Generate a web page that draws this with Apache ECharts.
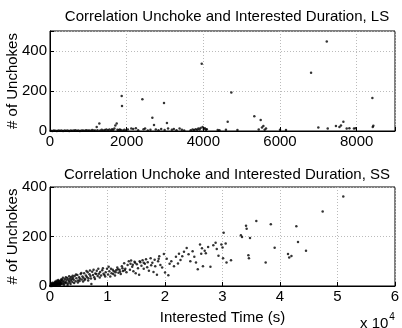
<!DOCTYPE html>
<html>
<head>
<meta charset="utf-8">
<script src="https://cdn.jsdelivr.net/npm/echarts@6/dist/echarts.min.js"></script>
<style>
  html, body { margin: 0; padding: 0; background: #fff; }
  #chart { width: 402px; height: 328px; }
</style>
</head>
<body>
<div id="chart"></div>
<script>
// titles / labels
var titleLS = 'Correlation Unchoke and Interested Duration, LS';
var titleSS = 'Correlation Unchoke and Interested Duration, SS';
var yName = '# of Unchokes';
var xName = 'Interested Time (s)';

// LS: [interested time (s), # of unchokes]
var lsPoints = [
  [20,1],[60,0],[100,2],[140,1],[180,0],[220,2],[260,1],[300,3],[340,0],[380,2],
  [420,1],[460,2],[500,0],[540,3],[580,1],[620,2],[660,4],[700,1],[740,2],[780,0],
  [820,3],[860,2],[900,1],[940,4],[980,2],[1020,3],[1060,1],[1100,5],[1140,2],[1180,3],
  [1218,20],[1240,4],[1287,38],[1310,2],[1350,6],[1390,3],[1430,5],[1470,8],[1510,4],[1550,7],
  [1590,3],[1620,9],[1650,5],[1680,12],[1704,28],[1740,38],[1760,6],[1790,4],[1820,8],[1850,5],
  [1870,175],[1878,125],[1900,3],[1940,6],[1980,2],[2030,8],[2120,12],[2170,10],[2240,14],[2300,4],
  [2410,159],[2440,9],[2480,12],[2550,3],[2620,6],[2670,66],[2713,30],[2760,8],[2830,4],[2900,10],
  [2974,140],[2990,5],[3050,40],[3080,12],[3180,6],[3230,10],[3300,4],[3380,12],[3440,6],[3500,3],
  [3670,4],[3720,7],[3760,5],[3800,9],[3840,6],[3870,12],[3900,8],[3930,15],[3958,336],[3980,20],
  [4010,10],[4040,14],[4070,6],[4090,9],[4375,5],[4420,4],[4590,6],[4635,46],[4730,192],[4890,5],
  [5330,74],[5445,8],[5497,55],[5530,18],[5566,25],[5600,6],[5635,12],[6000,6],[6157,5],[6810,291],
  [7000,18],[7220,448],[7245,12],[7460,25],[7550,20],[7590,27],[7653,46],[7740,13],[7810,14],[7930,12],
  [7975,14],[8410,165],[8435,26],[8420,20]
];

// SS: [interested time (s), # of unchokes]
var ssPoints = [
  [50,0],[120,3],[160,1],[210,6],[260,2],[310,0],[330,8],[400,3],[460,1],[520,9],
  [560,4],[610,2],[640,12],[720,5],[760,1],[790,10],[860,6],[910,3],[950,14],[1010,7],
  [1050,2],[1090,16],[1160,8],[1210,4],[1240,11],[1310,18],[1360,5],[1390,14],[1460,9],[1520,6],
  [1540,20],[1610,11],[1660,3],[1690,17],[1760,12],[1810,7],[1840,22],[1910,13],[1960,9],[2010,19],
  [2110,25],[2180,8],[2290,15],[2380,21],[2520,11],[2580,28],[2690,17],[2810,13],[2880,24],[3010,32],
  [3090,10],[3210,26],[3280,19],[3420,14],[3480,30],[3610,22],[3690,36],[3820,27],[3880,16],[4010,33],
  [4130,25],[4290,40],[4460,19],[4580,31],[4760,44],[4880,22],[5060,35],[5190,29],[5330,48],[5520,26],
  [5640,38],[5810,33],[5940,52],[6120,28],[6240,42],[6410,36],[6560,56],[6680,31],[6870,47],[7030,40],
  [7200,8],[7340,58],[7480,44],[7690,35],[7880,51],[8130,62],[8290,40],[8510,49],[8720,57],[8890,42],
  [9080,64],[9310,50],[9470,44],[9690,56],[9920,70],[10100,46],[10320,60],[10480,38],[10700,52],[10910,66],
  [11100,60],[11300,42],[11500,64],[11700,75],[11900,54],[12100,66],[12300,48],[12500,80],[12700,61],[12900,92],
  [13100,70],[13300,56],[13500,85],[13700,100],[13900,66],[14100,103],[14300,78],[14500,60],[14700,98],[14900,52],
  [15100,88],[15300,72],[15500,45],[15700,96],[15900,82],[16100,104],[16300,70],[16500,90],[16700,108],[16900,76],
  [17200,62],[17500,112],[17800,94],[18000,57],[18300,80],[18600,45],[18800,100],[19000,120],[19200,85],[19500,75],
  [19800,129],[20000,55],[20300,110],[20580,43],[20800,90],[21100,100],[21560,80],[21900,118],[22260,91],[22430,130],
  [22700,105],[23000,120],[23300,138],[23770,154],[24100,128],[24400,100],[24800,140],[25100,118],[25390,95],[25700,68],
  [26090,168],[26300,130],[26430,153],[26600,80],[26900,142],[27100,132],[27500,158],[27900,78],[28400,165],[28800,175],
  [29000,150],[29300,122],[29800,168],[30000,156],[30100,112],[30200,215],[30550,172],[30700,95],[31480,104],[33200,205],
  [33390,198],[34090,243],[34200,231],[34500,124],[34600,112],[34780,194],[35880,263],[37510,95],[38400,250],[39070,155],
  [41390,129],[41600,115],[41990,121],[42840,241],[43130,178],[44520,142],[47420,301],[51000,362],
  // extra scatter in the dense region near the origin
  [180,10],[420,13],[700,4],[880,17],[1130,21],[1420,24],[1700,6],[1980,27],[2250,33],[2450,5],
  [2760,35],[3050,4],[3330,39],[3580,8],[3950,41],[4200,12],[4520,46],[4850,14],[5150,20],[5450,53],
  [5750,18],[6000,24],[6350,61],[6640,22],[6950,63],[7120,30],[7580,66],[7820,28],[8050,48],[8400,70],
  [8650,34],[9200,72],[9600,38],[10200,78],[10600,70],[11000,48],[11400,56],[11800,68],[12200,58],[12600,72],
  [13000,64],[14000,90],[14400,86],[14800,94],[15600,100],[16300,94],[17000,96],[17600,84],[18200,106],[18900,110]
];

// tick values
var lsXTicks = [0, 2000, 4000, 6000, 8000];
var lsYTicks = [0, 200, 400];
var ssXTicks = [0, 1, 2, 3, 4, 5, 6]; // x 10^4
var ssYTicks = [0, 200, 400];

var myChart = echarts.init(document.getElementById('chart'));

var font = 'Liberation Sans, Arial, Helvetica, sans-serif';
var gridLine = { show: true, lineStyle: { color: '#bbb', type: [1, 2], width: 1 } };

function xAxisCfg(idx, max, interval, formatter, name) {
  return {
    type: 'value', gridIndex: idx, min: 0, max: max, interval: interval,
    name: name || '', nameLocation: 'middle', nameGap: 24, nameMoveOverlap: false,
    nameTextStyle: { color: '#000', fontSize: 15, fontFamily: font },
    axisLine: { show: true, onZero: false, lineStyle: { color: '#000', width: 1 } },
    axisTick: { show: true, inside: true, length: 4, lineStyle: { color: '#000' } },
    axisLabel: { color: '#000', fontSize: 15, fontFamily: font, margin: 3, formatter: formatter,
      showMaxLabel: true, hideOverlap: false },
    splitLine: gridLine
  };
}
function yAxisCfg(idx, max, interval, ticks) {
  return {
    type: 'value', gridIndex: idx, min: 0, max: max, interval: interval,
    name: yName, nameLocation: 'middle', nameGap: 30, nameRotate: 90, nameMoveOverlap: false,
    nameTextStyle: { color: '#000', fontSize: 15, fontFamily: font },
    axisLine: { show: true, onZero: false, lineStyle: { color: '#000', width: 1 } },
    axisTick: { show: true, inside: true, length: 4, lineStyle: { color: '#000' } },
    axisLabel: {
      color: '#000', fontSize: 15, fontFamily: font, margin: 3,
      formatter: function (v) { return (ticks.indexOf(v) >= 0) ? String(v) : ''; }
    },
    splitLine: gridLine
  };
}

var option = {
  animation: false,
  backgroundColor: '#fff',
  title: [
    { text: titleLS, left: 222, top: 4, textAlign: 'center',
      textStyle: { fontSize: 15, fontWeight: 'normal', color: '#000', fontFamily: font } },
    { text: titleSS, left: 222, top: 162, textAlign: 'center',
      textStyle: { fontSize: 15, fontWeight: 'normal', color: '#000', fontFamily: font } }
  ],
  grid: [
    { left: 50, top: 31, width: 345, height: 100, show: true, borderColor: '#000', borderWidth: 1,
      backgroundColor: '#fff', containLabel: false, outerBoundsMode: 'none' },
    { left: 50, top: 187, width: 345, height: 99, show: true, borderColor: '#000', borderWidth: 1,
      backgroundColor: '#fff', containLabel: false, outerBoundsMode: 'none' }
  ],
  xAxis: [
    xAxisCfg(0, 9000, 2000, function (v) { return (lsXTicks.indexOf(v) >= 0) ? String(v) : ''; }),
    xAxisCfg(1, 60000, 10000, function (v) { return String(ssXTicks[v / 10000]); }, xName)
  ],
  yAxis: [
    yAxisCfg(0, 500, 200, lsYTicks),
    yAxisCfg(1, 400, 200, ssYTicks)
  ],
  graphic: [
    { type: 'text', left: 360, top: 312,
      style: { text: '{a|x 10}{b|4}', fill: '#000',
        rich: { a: { fontSize: 15, fontFamily: font, verticalAlign: 'bottom', fill: '#000' },
                b: { fontSize: 10, fontFamily: font, verticalAlign: 'top', fill: '#000', padding: [0, 0, 9, 1] } } } }
  ],
  series: [
    { type: 'scatter', xAxisIndex: 0, yAxisIndex: 0, data: lsPoints, symbolSize: 2.5,
      itemStyle: { color: '#000' }, silent: true },
    { type: 'scatter', xAxisIndex: 1, yAxisIndex: 1, data: ssPoints, symbolSize: 2.5,
      itemStyle: { color: '#000' }, silent: true }
  ]
};

myChart.setOption(option);
</script>
</body>
</html>
